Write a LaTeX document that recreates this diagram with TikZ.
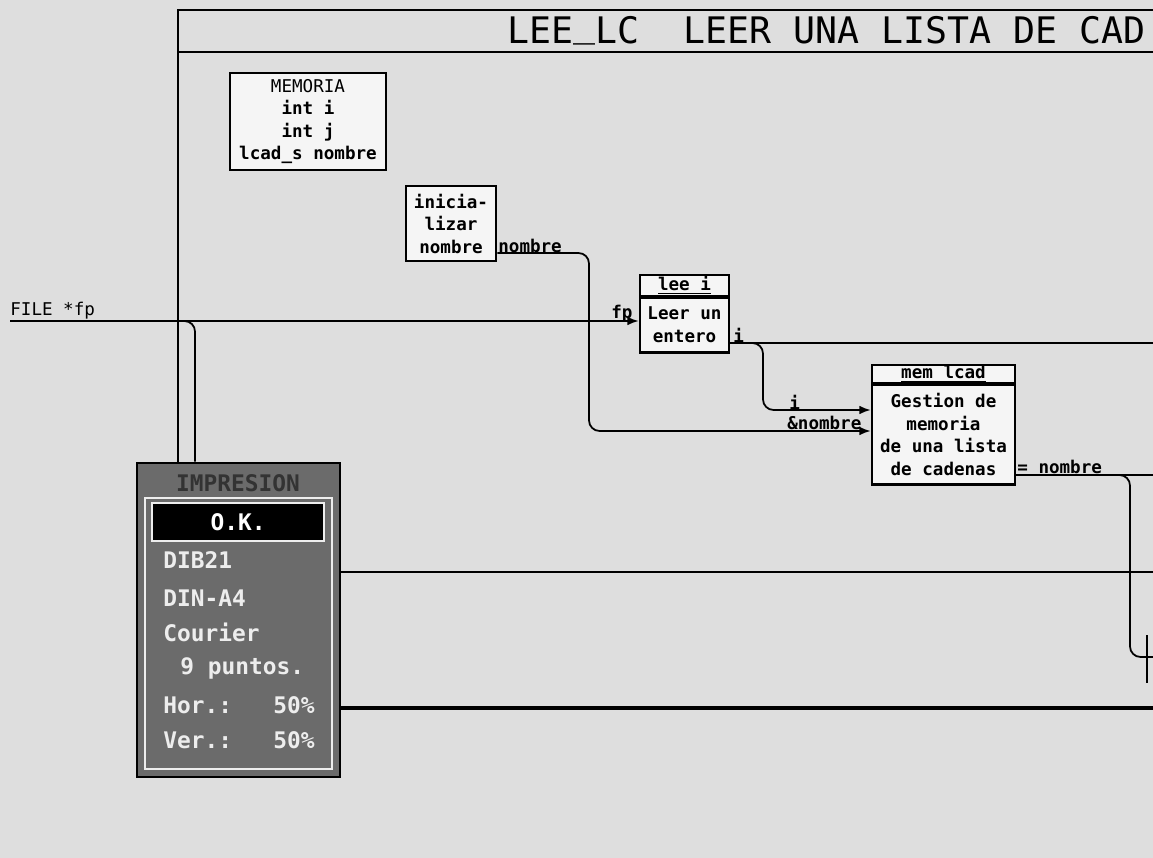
\documentclass[tikz,border=0pt]{standalone}
\usepackage{fontspec}
\setmainfont{DejaVu Sans Mono}
\usetikzlibrary{arrows.meta}

\begin{document}
\begin{tikzpicture}[x=0.02cm, y=-0.02cm,
    every node/.style={font=\bfseries\fontsize{10}{12.8}\selectfont, inner sep=0pt},
    box/.style={draw, line width=1.5pt, fill=boxbg, align=center},
    wire/.style={line width=1pt},
    tip/.style={-{Latex[length=6.5pt,width=5pt]}},
    frame/.style={line width=1.6pt},
    lbl/.style={anchor=west},
    item/.style={anchor=west, text=panelfg, font=\bfseries\fontsize{13}{15}\selectfont}]
  \colorlet{paper}{black!13}
  \colorlet{boxbg}{black!4}
  \colorlet{panel}{black!58}
  \colorlet{panelfg}{black!7}
  \fill[paper] (0,0) rectangle (1153,858);
  \useasboundingbox (0,0) rectangle (1153,858);
  % frame and title
  \draw[frame] (1153,10) -- (178,10) -- (178,462);
  \draw[frame] (178,52) -- (1153,52);
  \node[font=\fontsize{20.8}{24}\selectfont, anchor=base west] (title) at (507,44) {LEE\raisebox{0.2em}{\_}LC~~LEER UNA LISTA DE CAD};
  % boxes
  \node[box, minimum width=3.12cm, minimum height=1.94cm] (memo) at (308,121.5) {{\mdseries MEMORIA}\\int i\\int j\\lcad\_s nombre};
  \node[box, minimum width=1.8cm, minimum height=1.5cm] (ini) at (451,223.5) {inicia-\\lizar\\nombre};
  \node[box, minimum width=1.78cm, minimum height=0.42cm] (leeiHead) at (684.5,285.5) {\underline{lee i}};
  \node[box, minimum width=1.78cm, minimum height=1.1cm, anchor=north] (leei) at ([yshift=0.75pt]leeiHead.south) {Leer un\\entero};
  \node[box, minimum width=2.86cm, minimum height=0.36cm] (mlcHead) at (943.5,374) {\underline{mem lcad}};
  \node[box, minimum width=2.86cm, minimum height=2cm, anchor=north] (mlc) at ([yshift=0.75pt]mlcHead.south) {Gestion de\\memoria\\de una lista\\de cadenas};
  % print panel
  \node[draw, line width=1.5pt, fill=panel, minimum width=4.06cm, minimum height=6.28cm] (imp) at (238.5,620) {};
  \draw[panelfg, line width=0.8pt] (145,498) rectangle (332,769);
  \node[fill=black, draw=panelfg, line width=0.8pt, minimum width=3.44cm, minimum height=0.76cm, text=white, font=\bfseries\fontsize{13}{15}\selectfont] (ok) at (238,522) {O.K.};
  \node[item, anchor=center, text=black!80] (impTitle) at (238,483) {IMPRESION};
  \node[item] (dib) at (163,560) {DIB21};
  \node[item] (din) at (163,598) {DIN-A4};
  \node[item] (cour) at (163,632) {Courier};
  \node[item] (pts) at (180,668) {9 puntos.};
  \node[item] (hor) at (163,705) {Hor.:~~~50\%};
  \node[item] (ver) at (163,740) {Ver.:~~~50\%};
  % free ends
  \coordinate (fileIn) at (10,321);
  \coordinate (iOut) at (1153,343);
  \coordinate (nomOut) at (1153,475);
  \coordinate (nomDown) at (1153,657);
  % connectors
  \draw[wire, tip] (fileIn) -- (fileIn -| leei.west);
  \draw[wire, rounded corners=6pt] (fileIn) -| ([xshift=-0.87cm]imp.north);
  \draw[wire, tip, rounded corners=6pt] (ini.east |- 0,253) -| (589,431) -- (mlc.west |- 0,431);
  \draw[wire] (leei.east |- 0,343) -- (iOut);
  \draw[wire, tip, rounded corners=6pt] (leei.east |- 0,343) -| (763,410) -- (mlc.west |- 0,410);
  \draw[wire] (mlc.east |- 0,475) -- (nomOut);
  \draw[wire, rounded corners=6pt] (mlc.east |- 0,475) -| (1130,657) -- (nomDown);
  \draw[wire] (1147,635) -- (1147,683);
  \draw[wire] (imp.east |- 0,572) -- (1153,572);
  \draw[frame, line width=2pt] (imp.east |- 0,708) -- (1153,708);
  % labels
  \node[lbl, font=\mdseries\fontsize{10}{12}\selectfont] (fileLbl) at (10,311) {FILE *fp};
  \node[lbl] (nomLbl) at (498,246) {nombre};
  \node[lbl] (fpLbl) at (611,314) {fp};
  \node[lbl] (iLbl) at (733,335) {i};
  \node[lbl] (iLbl2) at (789,402) {i};
  \node[lbl] (refLbl) at (787,423) {\&nombre};
  \node[lbl] (retLbl) at (1017,467) {= nombre};
\end{tikzpicture}
\end{document}
